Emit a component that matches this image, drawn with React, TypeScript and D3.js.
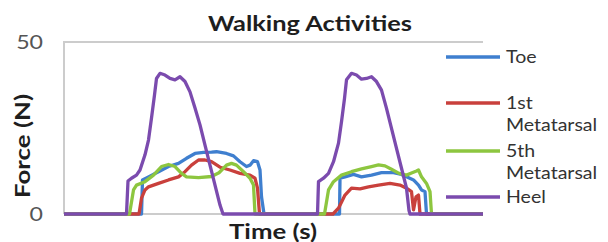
import React, { useEffect, useRef } from "react";
import * as d3 from "d3";

type Pt = [number, number];

const seriesNames = ["Toe", "1st Metatarsal", "5th Metatarsal", "Heel"];
const seriesColors = ["#3f7fcf", "#c9403c", "#8dc63f", "#7b4bae"];
const yTicks = [0, 50];
const chartTitle = "Walking Activities";
const xTitle = "Time (s)";
const yTitle = "Force (N)";

const toe: Pt[] = [
  [0, 0], [1.55, 0], [1.57, 9.9], [1.69, 10.8], [1.89, 12.3], [2.09, 13.8], [2.29, 14.7], [2.45, 16.2],
  [2.62, 17.6], [2.79, 17.9], [2.95, 18.0], [3.05, 18.1], [3.25, 17.6], [3.39, 16.9], [3.52, 15.2],
  [3.65, 13.8], [3.72, 14.2], [3.79, 15.5], [3.87, 15.2], [3.92, 12.8], [3.95, 5], [4.0, 0],
  [5.51, 0], [5.52, 10.4], [5.62, 10.8], [5.79, 11.5], [5.95, 10.8], [6.15, 11.3], [6.35, 12.0],
  [6.59, 12.0], [6.75, 11.5], [6.85, 10.8], [6.99, 9.9], [7.09, 8.4], [7.15, 7.0], [7.22, 6.5],
  [7.25, 0], [8.38, 0],
];

const firstMet: Pt[] = [
  [0, 0], [1.5, 0], [1.55, 4.6], [1.62, 7.0], [1.69, 7.9], [1.89, 8.9], [2.09, 9.9], [2.29, 10.8],
  [2.42, 12.3], [2.55, 14.2], [2.69, 15.7], [2.82, 15.7], [2.95, 15.2], [3.12, 13.6], [3.32, 12.8],
  [3.52, 11.8], [3.72, 11.3], [3.82, 10.4], [3.87, 7.5], [3.91, 0],
  [5.38, 0], [5.49, 1.7], [5.62, 5.5], [5.75, 7.5], [5.92, 7.3], [6.09, 7.9], [6.29, 8.4], [6.52, 8.9],
  [6.72, 8.4], [6.85, 7.5], [6.95, 6.5], [6.99, 1.2], [7.04, 5.0], [7.09, 5.5], [7.12, 0], [8.38, 0],
];

const fifthMet: Pt[] = [
  [0, 0], [1.31, 0], [1.39, 7.0], [1.45, 8.4], [1.62, 9.4], [1.79, 11.3], [1.95, 13.8], [2.09, 14.4],
  [2.22, 13.8], [2.35, 11.8], [2.45, 10.8], [2.69, 10.6], [2.95, 10.9], [3.1, 12.0], [3.25, 14.2],
  [3.35, 14.7], [3.45, 14.2], [3.59, 12.3], [3.72, 10.4], [3.79, 8.4], [3.82, 0],
  [5.21, 0], [5.29, 7.0], [5.39, 9.4], [5.55, 11.3], [5.75, 12.3], [5.95, 13.1], [6.15, 13.8],
  [6.29, 14.3], [6.42, 14.0], [6.55, 13.0], [6.7, 11.8], [6.85, 11.3], [6.95, 11.9], [7.05, 12.5],
  [7.09, 12.8], [7.15, 10.8], [7.25, 8.9], [7.32, 6.5], [7.35, 0], [8.38, 0],
];

const heel: Pt[] = [
  [0, 0], [1.25, 0], [1.28, 9.6], [1.35, 10.4], [1.45, 11.3], [1.52, 12.8], [1.62, 17.2], [1.69, 21.5],
  [1.75, 27.9], [1.81, 34.6], [1.85, 39.4], [1.92, 40.9], [2.02, 40.4], [2.12, 39.4], [2.22, 39.0],
  [2.32, 39.9], [2.42, 38.5], [2.52, 35.5], [2.62, 30.8], [2.72, 25.9], [2.82, 20.0], [2.92, 14.2],
  [3.02, 8.4], [3.12, 2.6], [3.18, 0],
  [5.07, 0], [5.09, 9.4], [5.19, 10.4], [5.29, 11.8], [5.39, 15.2], [5.49, 20.6], [5.55, 26.8],
  [5.61, 33.6], [5.65, 39.0], [5.75, 40.9], [5.85, 40.4], [5.95, 39.2], [6.05, 39.4], [6.15, 39.9],
  [6.25, 38.5], [6.35, 36.0], [6.45, 30.7], [6.55, 24.9], [6.65, 19.1], [6.75, 13.3], [6.85, 7.5],
  [6.9, 1.0], [6.92, 0], [8.38, 0],
];

const allSeries = [toe, firstMet, fifthMet, heel];

export default function App() {
  const ref = useRef<SVGSVGElement>(null);
  const W = 608;
  const H = 242;
  const m = { left: 64, right: 125, top: 42, bottom: 28 };

  useEffect(() => {
    const svg = d3.select(ref.current);
    svg.selectAll("*").remove();
    const x = d3.scaleLinear().domain([0, 8.38]).range([m.left, W - m.right]);
    const y = d3.scaleLinear().domain([0, 50]).range([H - m.bottom, m.top]);
    const font = "Lato, 'Open Sans', sans-serif";

    svg.append("rect").attr("width", W).attr("height", H).attr("fill", "#fff");

    const g = svg.append("g");
    const grid = "#cccccc";
    g.append("line")
      .attr("x1", x(0)).attr("x2", x(8.38))
      .attr("y1", y(50)).attr("y2", y(50))
      .attr("stroke", grid).attr("stroke-width", 2);
    g.append("line")
      .attr("x1", x(0)).attr("x2", x(0))
      .attr("y1", y(50) - 1).attr("y2", y(0))
      .attr("stroke", grid).attr("stroke-width", 2);
    g.append("line")
      .attr("x1", x(0)).attr("x2", x(8.38))
      .attr("y1", y(0)).attr("y2", y(0))
      .attr("stroke", grid).attr("stroke-width", 2);

    const yAxis = d3.axisLeft(y).tickValues(yTicks).tickSize(0).tickPadding(22);
    const ya = svg.append("g").attr("transform", `translate(${m.left},0)`).call(yAxis);
    ya.select(".domain").remove();
    ya.selectAll("text")
      .attr("font-family", font)
      .attr("font-size", 19)
      .attr("fill", "#555")
      .attr("transform", "scale(1.22,1)")
      .attr("x", -21 / 1.22);

    const line = d3.line<Pt>().x((d) => x(d[0])).y((d) => y(d[1]));
    allSeries.forEach((s, i) => {
      svg.append("path")
        .attr("d", line(s) as string)
        .attr("fill", "none")
        .attr("stroke", seriesColors[i])
        .attr("stroke-width", 3.3)
        .attr("stroke-linejoin", "round");
    });

    svg.append("text")
      .attr("x", 310).attr("y", 31)
      .attr("text-anchor", "middle")
      .attr("font-family", font).attr("font-weight", "bold")
      .attr("font-size", 21).attr("fill", "#1e1e1e")
      .attr("textLength", 204).attr("lengthAdjust", "spacingAndGlyphs")
      .text(chartTitle);

    svg.append("text")
      .attr("x", 273).attr("y", 239)
      .attr("text-anchor", "middle")
      .attr("font-family", font).attr("font-weight", "bold")
      .attr("font-size", 21).attr("fill", "#1e1e1e")
      .attr("textLength", 88).attr("lengthAdjust", "spacingAndGlyphs")
      .text(xTitle);

    svg.append("text")
      .attr("transform", `translate(30,146) rotate(-90)`)
      .attr("text-anchor", "middle")
      .attr("font-family", font).attr("font-weight", "bold")
      .attr("font-size", 20).attr("fill", "#1e1e1e")
      .attr("textLength", 104).attr("lengthAdjust", "spacingAndGlyphs")
      .text(yTitle);

    // legend
    const legendY = [57, 103, 151, 197];
    seriesNames.forEach((name, i) => {
      const lg = svg.append("g").attr("transform", `translate(446,${legendY[i]})`);
      lg.append("line")
        .attr("x1", 0).attr("x2", 54).attr("y1", 0).attr("y2", 0)
        .attr("stroke", seriesColors[i]).attr("stroke-width", 3.3);
      const words = name.split(" ");
      words.forEach((w, j) => {
        lg.append("g")
          .attr("transform", `translate(60,${j * 22}) scale(1.15,1)`)
          .append("text")
          .attr("dy", "0.36em")
          .attr("font-family", font)
          .attr("font-size", 17).attr("fill", "#333")
          .text(w);
      });
    });
  }, []);

  return (
    <svg ref={ref} width={W} height={H} style={{ display: "block", position: "absolute", left: 0, top: 0 }} />
  );
}
